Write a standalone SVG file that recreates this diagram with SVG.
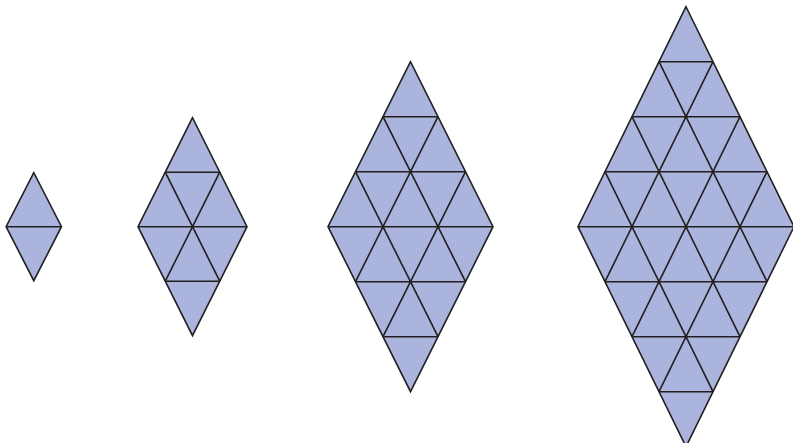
<svg xmlns="http://www.w3.org/2000/svg" width="793" height="443" viewBox="0 0 793 443">
<style>
.fill{fill:#aab4dc;stroke:#231f20;stroke-width:1.6;stroke-linejoin:miter}
.grid{stroke:#231f20;stroke-width:1.6;fill:none;stroke-linecap:butt}
</style>
<rect width="793" height="443" fill="#ffffff"/>
<g id="diamond1">
<polygon class="fill" points="33.8,172.7 6.1,226.7 33.8,280.7 61.5,226.7"/>
<path class="grid" d="M6.1,226.7H61.5"/>
</g>
<g id="diamond2">
<polygon class="fill" points="192.5,117.7 138,226.7 192.5,335.7 247,226.7"/>
<path class="grid" d="M165.25,172.2H219.75M138,226.7H247M165.25,281.2H219.75M165.25,172.2L219.75,281.2M219.75,172.2L165.25,281.2"/>
</g>
<g id="diamond3">
<polygon class="fill" points="410.5,61.7 328,226.7 410.5,391.7 493,226.7"/>
<path class="grid" d="M383,116.7H438M355.5,171.7H465.5M328,226.7H493M355.5,281.7H465.5M383,336.7H438M383,116.7L465.5,281.7M355.5,171.7L438,336.7M438,116.7L355.5,281.7M465.5,171.7L383,336.7"/>
</g>
<g id="diamond4">
<polygon class="fill" points="686,6.7 578,226.7 686,446.7 794,226.7"/>
<path class="grid" d="M659,61.7H713M632,116.7H740M605,171.7H767M578,226.7H794M605,281.7H767M632,336.7H740M659,391.7H713M659,61.7L767,281.7M632,116.7L740,336.7M605,171.7L713,391.7M713,61.7L605,281.7M740,116.7L632,336.7M767,171.7L659,391.7"/>
</g>
</svg>
